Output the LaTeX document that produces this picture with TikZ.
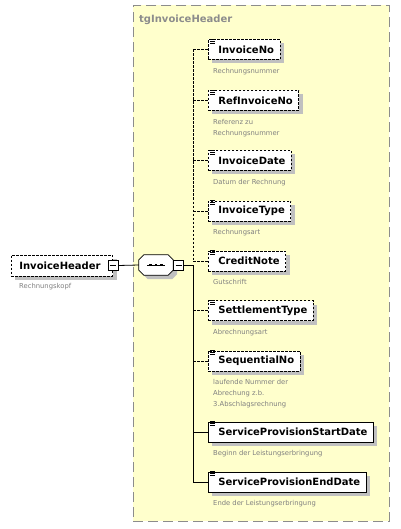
\documentclass[tikz,border=0pt]{standalone}
\usepackage{fontspec}
\setmainfont{DejaVu Sans}
\usetikzlibrary{shadows}
\definecolor{grpfill}{HTML}{FFFFCC}
\definecolor{grpline}{HTML}{8C8C8C}
\definecolor{desctext}{HTML}{808080}
\definecolor{shadowgray}{HTML}{C0C0C0}
\tikzset{
  grp/.style={draw=grpline, fill=grpfill, line width=0.9pt, dash pattern=on 10pt off 5pt,
    anchor=north west, minimum width=256pt, minimum height=516pt, inner sep=0},
  grptitle/.style={anchor=west, inner sep=0, text=grpline, font=\fontsize{10}{12}\selectfont\bfseries},
  elem/.style={draw, fill=white, line width=0.8pt, anchor=west, minimum height=20pt,
    inner xsep=6pt, inner ysep=0, font=\fontsize{10}{12}\selectfont\bfseries,
    drop shadow={shadow xshift=4pt, shadow yshift=-4pt, fill=shadowgray, opacity=1}},
  optelem/.style={elem, dash pattern=on 2.5pt off 1.5pt},
  desc/.style={anchor=north west, inner sep=0, align=left, text=desctext,
    font=\fontsize{6.8}{11}\selectfont},
  minus/.style={draw, fill=white, line width=0.7pt, minimum size=10pt, inner sep=0,
    path picture={\draw ([xshift=2pt]path picture bounding box.west) -- ([xshift=-2pt]path picture bounding box.east);}},
  seqbox/.style={minimum width=34pt, minimum height=20pt, inner sep=0},
  optline/.style={line width=0.8pt, dash pattern=on 2.5pt off 1.5pt},
  reqline/.style={line width=0.8pt}
}
% little "content" mark in the top left corner of an element
\newcommand{\elicon}[1]{\foreach \d in {0,2,4}
  \draw[line width=0.6pt] ([xshift=2pt,yshift=-\d pt]#1.north west) -- ++(5,0);}
% cut-corner outline round a node
\newcommand{\octpath}[1]{([xshift=5pt]#1.north west) -- ([xshift=-5pt]#1.north east)
  -- ([yshift=-5pt]#1.north east) -- ([yshift=5pt]#1.south east) -- ([xshift=-5pt]#1.south east)
  -- ([xshift=5pt]#1.south west) -- ([yshift=5pt]#1.south west) -- ([yshift=-5pt]#1.north west) -- cycle}
\begin{document}
\begin{tikzpicture}[x=1pt, y=-1pt]
\useasboundingbox (0,0) rectangle (400,529);
% group
\node[grp] (grp) at (133,5) {};
\node[grptitle] (grpname) at (139,20) {tgInvoiceHeader};
% root element
\node[optelem, minimum height=21pt, inner xsep=8pt] (hdr) at (11,265.5) {InvoiceHeader\hspace*{4pt}};
\node[minus] (hdrm) at (hdr.east) {};
\node[desc] (hdrd) at ([xshift=8pt,yshift=-7pt]hdr.south west) {Rechnungskopf};
% sequence
\node[seqbox] (seq) at (156,265) {};
\fill[shadowgray, transform canvas={shift={(4pt,-4pt)}}] \octpath{seq};
\draw[fill=white, line width=0.8pt] \octpath{seq};
\node[minus, anchor=west] (seqm) at (seq.east) {};
\draw[line width=0.8pt] ([xshift=-9pt]seq.center) -- ([xshift=9pt]seq.center);
\foreach \dx in {-5.5,0,5.5}
  \fill ([xshift=\dx pt]seq.center) +(-1.3,-1.3) rectangle +(1.3,1.3);
\draw[reqline] (hdrm.east) -- (seq.west);
% elements
\node[optelem] (e1) at (208,49.5) {\hspace*{4pt}InvoiceNo};
\node[desc] (d1) at ([xshift=5pt,yshift=-8pt]e1.south west) {Rechnungsnummer};
\node[optelem] (e2) at (208,100.5) {\hspace*{4pt}RefInvoiceNo};
\node[desc] (d2) at ([xshift=5pt,yshift=-8pt]e2.south west) {Referenz zu\\Rechnungsnummer};
\node[optelem] (e3) at (208,160.5) {\hspace*{4pt}InvoiceDate};
\node[desc] (d3) at ([xshift=5pt,yshift=-8pt]e3.south west) {Datum der Rechnung};
\node[optelem] (e4) at (208,211) {\hspace*{4pt}InvoiceType};
\node[desc] (d4) at ([xshift=5pt,yshift=-8pt]e4.south west) {Rechnungsart};
\node[optelem] (e5) at (208,261) {\hspace*{4pt}CreditNote};
\node[desc] (d5) at ([xshift=5pt,yshift=-8pt]e5.south west) {Gutschrift};
\node[optelem] (e6) at (208,310.5) {\hspace*{4pt}SettlementType};
\node[desc] (d6) at ([xshift=5pt,yshift=-8pt]e6.south west) {Abrechnungsart};
\node[optelem] (e7) at (208,361) {\hspace*{4pt}SequentialNo};
\node[desc] (d7) at ([xshift=5pt,yshift=-8pt]e7.south west) {laufende Nummer der\\Abrechung z.b.\\3.Abschlagsrechnung};
\node[elem] (e8) at (208,432) {\hspace*{4pt}ServiceProvisionStartDate};
\node[desc] (d8) at ([xshift=5pt,yshift=-8pt]e8.south west) {Beginn der Leistungserbringung};
\node[elem] (e9) at (208,482) {\hspace*{4pt}ServiceProvisionEndDate};
\node[desc] (d9) at ([xshift=5pt,yshift=-8pt]e9.south west) {Ende der Leistungserbringung};
\foreach \e in {e1,e2,e3,e4,e5,e6,e7,e8,e9} {\elicon{\e}}
% connectors
\coordinate (bus) at ([xshift=-15pt]e1.west);
\draw[optline] (bus) -- (bus |- e5.west);
\foreach \e in {e1,e2,e3,e4,e5,e6,e7}
  \draw[optline] (bus |- \e.west) -- (\e.west);
\draw[reqline] (seqm.east) -- (bus |- seqm.east) -- (bus |- e9.west) -- (e9.west);
\draw[reqline] (bus |- e8.west) -- (e8.west);
\end{tikzpicture}
\end{document}
